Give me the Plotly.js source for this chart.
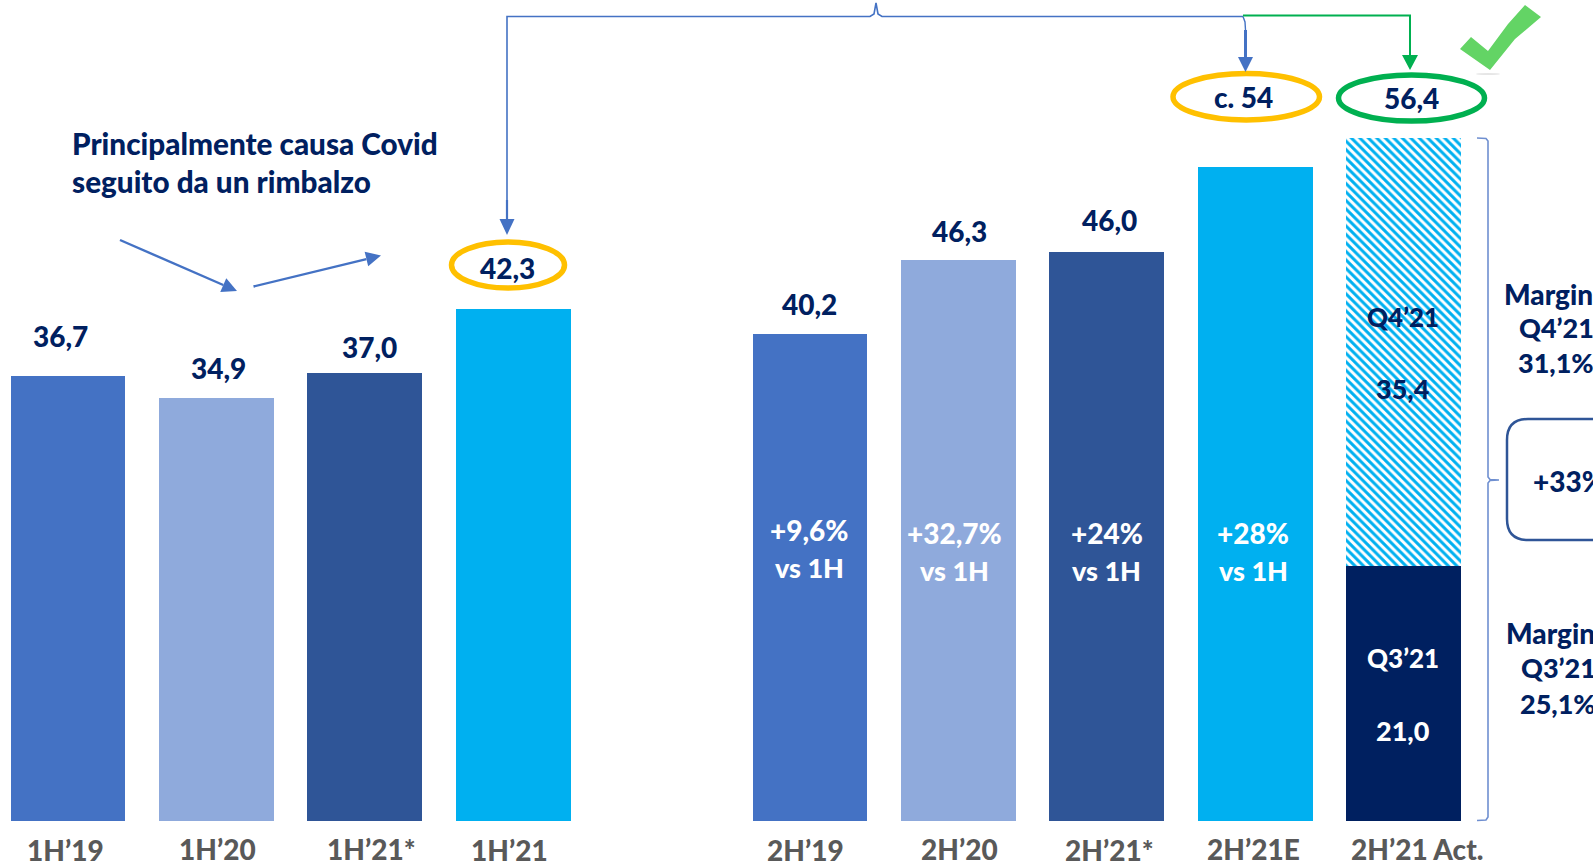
<!DOCTYPE html>
<html>
<head>
<meta charset="utf-8">
<script src="https://cdn.plot.ly/plotly-3.0.1.min.js"></script>
<style>html,body{margin:0;padding:0;background:#fff;overflow:hidden}#c{width:1593px;height:867px}</style>
</head>
<body>
<div id="c"></div>
<script>
// ---- data ----
const categories = ["1H’19","1H’20","1H’21*","1H’21"," ","2H’19","2H’20","2H’21*","2H’21E","2H’21 Act."];
// Bar heights as drawn in the picture (2H’21* is drawn taller than its printed 46,0).
const barValues = [36.7,34.9,37.0,42.3,null,40.2,46.3,47.0,54.0,21.0];
const q4Values  = [null,null,null,null,null,null,null,null,null,35.4];
const barColors = ["#4472C4","#8FAADC","#2F5597","#00B0F0","#fff","#4472C4","#8FAADC","#2F5597","#00B0F0","#002060"];
const valueLabels = ["36,7","34,9","37,0","42,3","40,2","46,3","46,0","c. 54","56,4"];
const deltaLabels = ["+9,6%","+32,7%","+24%","+28%"];
const vsLabel = "vs 1H";

// ---- page geometry ----
const W = 1593, H = 867;
const NAVY = "#002060", GREY = "#595959", BLUE = "#4472C4", YEL = "#FFC000", GRN = "#00B050";
const FONT = "Lato, Carlito, sans-serif";
const px = x => x / W, py = y => 1 - y / H;
const pth = pts => pts.map((p, i) => (i ? "L" : "M") + px(p[0]) + "," + py(p[1])).join(" ");

const catPos = [[65,850],[217,849],[371,849],[509,850],null,[806,850],[960,849],[1109,850],[1253,849],[1417,849]];
const valuePos = [[61,336],[218.5,368],[369,347],[507,267.5],[809,304.5],[960,230.5],[1109.5,219.5],[1243,96.5],[1411,98]];
const deltaPos = [[809,530,567],[954,533,570],[1106.5,533,570],[1253,533,570]];

const ann = [];
function txt(x, y, s, color, size, anchor) {
  ann.push({xref:"paper", yref:"paper", x:px(x), y:py(y), text:s, showarrow:false,
    xanchor:anchor||"center", yanchor:"middle", align:anchor||"center",
    font:{family:FONT, weight:900, size:size||28, color:color||NAVY}, borderpad:0});
}
categories.forEach((c,i)=>{ if(catPos[i]) txt(catPos[i][0],catPos[i][1],c,GREY,28); });
valueLabels.forEach((v,i)=>txt(valuePos[i][0],valuePos[i][1],v));
deltaLabels.forEach((d,i)=>{ txt(deltaPos[i][0],deltaPos[i][1],d,"#fff"); txt(deltaPos[i][0],deltaPos[i][2],vsLabel,"#fff",27); });
txt(71,143.5,"Principalmente causa Covid",NAVY,29.7,"left");
txt(71,182,"seguito da un rimbalzo",NAVY,29.7,"left");
txt(1403,317,"Q4’21",NAVY,26); txt(1403,388,"35,4",NAVY,27);
txt(1403,658,"Q3’21","#fff",26); txt(1403,730,"21,0","#fff",27);
txt(1503,293.5,"Margine",NAVY,28,"left"); txt(1556,327.5,"Q4’21",NAVY,27); txt(1556,362.5,"31,1%",NAVY,27);
txt(1505,632.5,"Margine",NAVY,28,"left"); txt(1558,667.5,"Q3’21",NAVY,27); txt(1558,703.5,"25,1%",NAVY,27);
txt(1532,481,"+33%",NAVY,28,"left");

const shapes = [];
function line(d,color,w){ shapes.push({type:"path",xref:"paper",yref:"paper",path:d,line:{color:color,width:w},fillcolor:"rgba(0,0,0,0)"}); }
function poly(pts,color){ shapes.push({type:"path",xref:"paper",yref:"paper",path:pth(pts)+" Z",line:{width:0},fillcolor:color}); }
function ell(x0,y0,x1,y1,color,w){ shapes.push({type:"circle",xref:"paper",yref:"paper",x0:px(x0),x1:px(x1),y0:py(y1),y1:py(y0),line:{color:color,width:w},fillcolor:"rgba(0,0,0,0)"}); }
function arrow(x0,y0,x1,y1,color,w,hl,hw){
  const d=Math.hypot(x1-x0,y1-y0), ux=(x1-x0)/d, uy=(y1-y0)/d, bx=x1-ux*hl, by=y1-uy*hl;
  line(pth([[x0,y0],[bx,by]]),color,w);
  poly([[x1,y1],[bx-uy*hw/2,by+ux*hw/2],[bx+uy*hw/2,by-ux*hw/2]],color);
}
// ellipses
ell(451.5,242,564.5,288,YEL,5.5);
ell(1173,73.5,1319.5,120,YEL,5.5);
ell(1338.5,75,1484.5,121,GRN,5.5);
// top bracket with brace tip
line(pth([[507,220],[507,16.5],[870,16.5],[874,14],[876,3],[878,14],[882,16.5],[1243,16.5]]),BLUE,1.6);
arrow(507,200,507,235,BLUE,2.2,16,15);
line(pth([[1243,16.5],[1245,22],[1245.5,30]]),BLUE,1.4);
arrow(1245.5,30,1245.5,72,BLUE,3,15,15);
// green connector
line(pth([[1243,15.5],[1410,15.5],[1410,56]]),GRN,2);
arrow(1410,40,1410,70,GRN,2,15,16);
// free arrows
arrow(120,240,237,291,BLUE,2.4,15,15);
arrow(253.5,286.5,381,255.5,BLUE,2.4,15,15);
// check mark
poly([[1525,5],[1541,17],[1515,39],[1490,70],[1460,49],[1471,37],[1488,51],[1508,24]],"#63D465");
ell(1476,73,1500,75,"rgba(0,0,0,0)",0);
shapes[shapes.length-1].fillcolor="#E6E6E6";
// right brace
line(pth([[1477,138],[1486,138.5],[1488,141],[1488,477],[1490,479.5],[1499,480],[1490,480.5],[1488,483],[1488,817],[1486,820],[1477,820.5]]),"#6F8FD0",1.6);
// rounded box (runs off the page)
line("M"+px(1600)+","+py(419)+" L"+px(1528)+","+py(419)+" Q"+px(1507)+","+py(419)+" "+px(1507)+","+py(440)+" L"+px(1507)+","+py(519)+" Q"+px(1507)+","+py(540)+" "+px(1528)+","+py(540)+" L"+px(1600)+","+py(540),"#2F5597",2.5);

const traces = [
  {type:"bar", x:categories, y:barValues, marker:{color:barColors, line:{width:0}}, hoverinfo:"skip", showlegend:false},
  {type:"bar", x:categories, y:q4Values, hoverinfo:"skip", showlegend:false,
   marker:{color:"#fff", line:{width:0}, pattern:{shape:"\\", fgcolor:"#00B0F0", bgcolor:"#fff", size:6, solidity:0.5, fillmode:"replace"}}}
];
const layout = {
  width:W, height:H, margin:{l:0,r:0,t:0,b:0}, paper_bgcolor:"#fff", plot_bgcolor:"#fff",
  barmode:"stack", bargap:0.226, showlegend:false,
  xaxis:{type:"category", categoryorder:"array", categoryarray:categories, range:[-0.458,10.276], visible:false, fixedrange:true},
  yaxis:{range:[-3.843,67.81], visible:false, fixedrange:true},
  annotations:ann, shapes:shapes
};
Plotly.newPlot("c",traces,layout,{displayModeBar:false,staticPlot:true});
</script>
</body>
</html>
